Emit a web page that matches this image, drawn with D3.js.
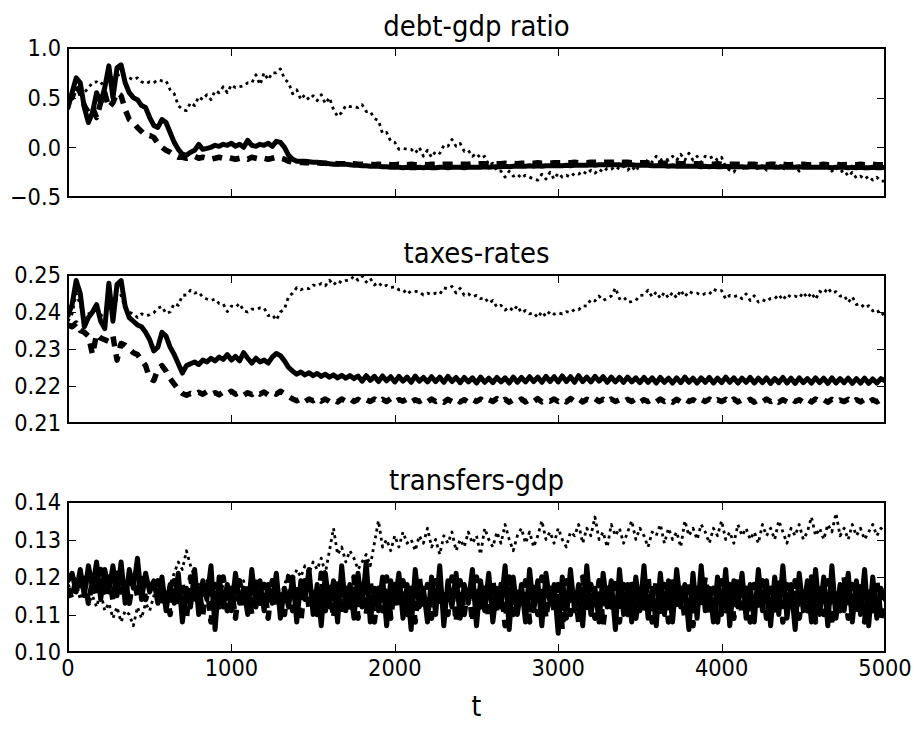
<!DOCTYPE html>
<html>
<head>
<meta charset="utf-8">
<script src="https://cdn.jsdelivr.net/npm/d3@7"></script>
<style>
html,body{margin:0;padding:0;background:#fff;}
svg{display:block;}
text{font-family:"DejaVu Sans",sans-serif;fill:#000;}
</style>
</head>
<body>
<svg id="chart" width="917" height="729"></svg>
<script>
// time axis (every 25 periods)
const T = d3.range(0, 5001, 25);
const xTicks = [0, 1000, 2000, 3000, 4000, 5000];

const titles = ["debt-gdp ratio", "taxes-rates", "transfers-gdp"];
const xLabel = "t";
const debtTicks = [-0.5, 0.0, 0.5, 1.0];
const taxTicks = [0.21, 0.22, 0.23, 0.24, 0.25];
const transferTicks = [0.10, 0.11, 0.12, 0.13, 0.14];

// ---------- debt-gdp ratio ----------
const debtSolid = [
0.40,0.55,0.70,0.65,0.40,0.25,0.35,0.55,0.45,0.60,0.82,0.50,0.80,0.83,0.65,0.55,0.50,0.48,0.42,0.40,0.30,0.22,0.20,0.28,
0.25,0.15,0.05,-0.02,-0.07,-0.08,-0.05,-0.03,0.03,-0.02,-0.01,0.00,0.02,0.01,0.03,0.02,0.04,0.01,0.03,0.00,0.07,0.02,0.01,0.03,
0.02,0.04,0.01,0.06,0.05,0.00,-0.08,-0.12,-0.14,-0.14,-0.14,-0.145,-0.15,-0.15,-0.155,-0.16,-0.165,-0.17,-0.17,-0.165,-0.17,-0.175,-0.18,-0.18,
-0.185,-0.185,-0.19,-0.19,-0.19,-0.195,-0.195,-0.2,-0.2,-0.2,-0.205,-0.2,-0.205,-0.205,-0.2,-0.205,-0.2,-0.205,-0.205,-0.2,-0.2,-0.205,-0.2,-0.2,
-0.2,-0.205,-0.2,-0.2,-0.2,-0.2,-0.195,-0.2,-0.195,-0.195,-0.195,-0.19,-0.195,-0.19,-0.19,-0.19,-0.19,-0.185,-0.19,-0.185,-0.19,-0.185,-0.185,-0.185,
-0.185,-0.185,-0.18,-0.185,-0.18,-0.18,-0.18,-0.18,-0.175,-0.18,-0.175,-0.175,-0.175,-0.175,-0.175,-0.175,-0.18,-0.175,-0.175,-0.18,-0.18,-0.18,-0.18,-0.185,
-0.185,-0.185,-0.185,-0.19,-0.185,-0.19,-0.19,-0.19,-0.19,-0.19,-0.19,-0.195,-0.19,-0.195,-0.19,-0.195,-0.195,-0.19,-0.195,-0.195,-0.195,-0.195,-0.2,-0.195,
-0.195,-0.2,-0.195,-0.2,-0.195,-0.2,-0.2,-0.195,-0.2,-0.2,-0.2,-0.195,-0.2,-0.2,-0.2,-0.2,-0.2,-0.2,-0.2,-0.205,-0.2,-0.2,-0.2,-0.205,
-0.2,-0.205,-0.2,-0.205,-0.205,-0.2,-0.205,-0.205,-0.2
];
const debtDashed = [
0.48,0.50,0.62,0.55,0.42,0.35,0.40,0.30,0.45,0.55,0.40,0.45,0.55,0.52,0.38,0.28,0.25,0.20,0.16,0.12,0.12,0.10,0.04,0.00,
-0.03,-0.05,-0.08,-0.10,-0.10,-0.11,-0.10,-0.09,-0.11,-0.10,-0.11,-0.12,-0.11,-0.10,-0.11,-0.10,-0.11,-0.12,-0.11,-0.11,-0.12,-0.10,-0.11,-0.12,
-0.11,-0.12,-0.11,-0.10,-0.11,-0.12,-0.14,-0.15,-0.155,-0.15,-0.155,-0.155,-0.16,-0.155,-0.16,-0.16,-0.165,-0.16,-0.165,-0.165,-0.165,-0.17,-0.165,-0.17,
-0.17,-0.17,-0.17,-0.175,-0.17,-0.175,-0.17,-0.175,-0.175,-0.17,-0.175,-0.175,-0.17,-0.175,-0.175,-0.17,-0.175,-0.17,-0.17,-0.175,-0.17,-0.17,-0.17,-0.17,
-0.17,-0.17,-0.17,-0.165,-0.17,-0.165,-0.165,-0.17,-0.165,-0.165,-0.165,-0.16,-0.165,-0.16,-0.165,-0.16,-0.16,-0.16,-0.16,-0.155,-0.16,-0.155,-0.16,-0.155,
-0.155,-0.155,-0.155,-0.155,-0.15,-0.155,-0.15,-0.155,-0.15,-0.15,-0.15,-0.15,-0.15,-0.15,-0.15,-0.155,-0.15,-0.15,-0.155,-0.155,-0.155,-0.155,-0.16,-0.155,
-0.16,-0.16,-0.16,-0.16,-0.165,-0.16,-0.165,-0.165,-0.165,-0.165,-0.165,-0.17,-0.165,-0.17,-0.17,-0.165,-0.17,-0.17,-0.17,-0.17,-0.17,-0.175,-0.17,-0.17,
-0.17,-0.175,-0.17,-0.175,-0.17,-0.17,-0.175,-0.17,-0.175,-0.175,-0.17,-0.175,-0.17,-0.175,-0.175,-0.17,-0.175,-0.17,-0.175,-0.175,-0.17,-0.175,-0.175,-0.17,
-0.175,-0.175,-0.17,-0.175,-0.175,-0.17,-0.175,-0.175,-0.175
];
const debtDotted = [
0.45,0.55,0.60,0.58,0.55,0.60,0.65,0.66,0.63,0.68,0.72,0.70,0.72,0.74,0.71,0.70,0.68,0.70,0.66,0.64,0.66,0.65,0.68,0.67,
0.67,0.58,0.54,0.42,0.38,0.37,0.45,0.42,0.51,0.48,0.53,0.48,0.57,0.55,0.61,0.55,0.63,0.60,0.61,0.62,0.65,0.65,0.73,0.63,
0.75,0.68,0.75,0.75,0.79,0.69,0.65,0.54,0.58,0.48,0.53,0.48,0.52,0.47,0.53,0.44,0.50,0.38,0.31,0.35,0.42,0.41,0.41,0.40,
0.43,0.36,0.36,0.29,0.27,0.14,0.15,0.06,0.05,-0.02,-0.01,-0.02,-0.02,-0.06,0.00,-0.09,-0.03,-0.10,-0.04,-0.06,0.02,0.01,0.08,0.01,
0.04,-0.04,-0.03,-0.09,-0.06,-0.11,-0.09,-0.18,-0.16,-0.24,-0.24,-0.30,-0.24,-0.29,-0.27,-0.31,-0.28,-0.30,-0.32,-0.33,-0.27,-0.32,-0.25,-0.32,
-0.26,-0.30,-0.28,-0.30,-0.26,-0.27,-0.24,-0.27,-0.23,-0.26,-0.22,-0.25,-0.21,-0.22,-0.19,-0.22,-0.19,-0.23,-0.19,-0.24,-0.17,-0.18,-0.12,-0.15,
-0.09,-0.13,-0.11,-0.13,-0.09,-0.13,-0.07,-0.13,-0.06,-0.13,-0.09,-0.15,-0.09,-0.11,-0.09,-0.13,-0.10,-0.20,-0.23,-0.25,-0.18,-0.22,-0.17,-0.21,
-0.17,-0.23,-0.18,-0.23,-0.19,-0.21,-0.16,-0.23,-0.17,-0.21,-0.19,-0.24,-0.18,-0.20,-0.17,-0.23,-0.17,-0.21,-0.19,-0.24,-0.20,-0.25,-0.23,-0.29,
-0.25,-0.31,-0.29,-0.32,-0.29,-0.33,-0.30,-0.34,-0.34
];

// ---------- taxes-rates ----------
const taxSolid = [
0.239,0.242,0.2485,0.245,0.236,0.2385,0.240,0.242,0.2375,0.2355,0.2478,0.2375,0.2475,0.2485,0.2415,0.2385,0.2375,0.2365,0.2360,0.2345,0.2325,0.2295,0.2305,0.2345,
0.2335,0.2305,0.2285,0.226,0.2235,0.2255,0.226,0.2265,0.2258,0.2270,0.2265,0.2275,0.2268,0.2278,0.2272,0.2285,0.2270,0.2280,0.2268,0.2290,0.2275,0.2262,0.2275,0.2265,
0.2270,0.2262,0.2278,0.2288,0.2282,0.2268,0.2250,0.2240,0.2232,0.2238,0.2230,0.2236,0.2228,0.2234,0.2226,0.2232,0.2224,0.2230,0.2222,0.2229,0.2221,0.2228,0.2220,0.2227,
0.2213,0.2228,0.2215,0.2226,0.2212,0.2227,0.2214,0.2225,0.2211,0.2226,0.2213,0.2224,0.2210,0.2227,0.2213,0.2223,0.2211,0.2225,0.2212,0.2224,0.2210,0.2226,0.2212,0.2223,
0.2209,0.2223,0.2211,0.2222,0.2208,0.2224,0.2210,0.2221,0.2209,0.2223,0.2211,0.2222,0.2208,0.2224,0.2210,0.2223,0.2211,0.2225,0.2212,0.2224,0.2210,0.2226,0.2212,0.2225,
0.2211,0.2227,0.2212,0.2225,0.2210,0.2228,0.2212,0.2224,0.2211,0.2226,0.2213,0.2225,0.2210,0.2224,0.2211,0.2223,0.2210,0.2224,0.2211,0.2222,0.2209,0.2223,0.2210,0.2222,
0.2208,0.2223,0.2210,0.2221,0.2208,0.2222,0.2209,0.2224,0.2210,0.2221,0.2208,0.2222,0.2210,0.2223,0.2208,0.2221,0.2209,0.2224,0.2210,0.2222,0.2208,0.2221,0.2210,0.2223,
0.2208,0.2221,0.2209,0.2222,0.2207,0.2220,0.2209,0.2223,0.2208,0.2221,0.2207,0.2222,0.2209,0.2220,0.2208,0.2222,0.2209,0.2221,0.2207,0.2222,0.2208,0.2220,0.2209,0.2221,
0.2207,0.2220,0.2208,0.2221,0.2207,0.2219,0.2208,0.2220,0.2214
];
const taxDashed = [
0.2365,0.2360,0.2370,0.2350,0.2345,0.2335,0.2285,0.2340,0.2330,0.2325,0.2320,0.2335,0.2270,0.2315,0.2310,0.2300,0.2290,0.2285,0.2270,0.2255,0.2220,0.2215,0.2245,0.2255,
0.2240,0.2220,0.2205,0.2190,0.2180,0.2175,0.2180,0.2176,0.2183,0.2178,0.2185,0.2177,0.2182,0.2176,0.2184,0.2179,0.2186,0.2178,0.2183,0.2175,0.2182,0.2177,0.2185,0.2178,
0.2184,0.2176,0.2183,0.2178,0.2186,0.2179,0.2172,0.2165,0.2160,0.2166,0.2158,0.2165,0.2160,0.2167,0.2159,0.2165,0.2158,0.2164,0.2157,0.2165,0.2159,0.2166,0.2158,0.2164,
0.2157,0.2163,0.2158,0.2165,0.2157,0.2164,0.2158,0.2166,0.2157,0.2163,0.2159,0.2165,0.2156,0.2163,0.2158,0.2164,0.2157,0.2165,0.2158,0.2163,0.2156,0.2164,0.2158,0.2165,
0.2157,0.2163,0.2156,0.2164,0.2158,0.2165,0.2157,0.2163,0.2158,0.2166,0.2157,0.2164,0.2156,0.2163,0.2158,0.2165,0.2157,0.2164,0.2158,0.2166,0.2157,0.2163,0.2159,0.2165,
0.2158,0.2164,0.2157,0.2166,0.2158,0.2165,0.2157,0.2164,0.2159,0.2166,0.2158,0.2164,0.2157,0.2165,0.2158,0.2163,0.2157,0.2164,0.2158,0.2165,0.2156,0.2163,0.2158,0.2164,
0.2157,0.2165,0.2158,0.2163,0.2156,0.2164,0.2157,0.2165,0.2158,0.2163,0.2156,0.2164,0.2158,0.2165,0.2157,0.2163,0.2158,0.2164,0.2156,0.2165,0.2157,0.2163,0.2158,0.2164,
0.2156,0.2163,0.2157,0.2165,0.2158,0.2164,0.2156,0.2163,0.2157,0.2165,0.2158,0.2163,0.2156,0.2164,0.2157,0.2165,0.2158,0.2163,0.2156,0.2164,0.2157,0.2162,0.2158,0.2164,
0.2156,0.2163,0.2157,0.2164,0.2156,0.2163,0.2157,0.2164,0.2158
];
const taxDotted = [
0.2375,0.2395,0.2450,0.2420,0.2380,0.2395,0.2400,0.2415,0.2390,0.2395,0.2430,0.2400,0.2440,0.2445,0.2410,0.2400,0.2395,0.2385,0.2395,0.2390,0.2392,0.2398,0.2410,0.2415,
0.2396,0.2400,0.2423,0.2418,0.2445,0.2446,0.2459,0.2451,0.2454,0.2440,0.2435,0.2431,0.2435,0.2423,0.2422,0.2401,0.2416,0.2413,0.2423,0.2403,0.2400,0.2408,0.2407,0.2411,
0.2411,0.2390,0.2393,0.2378,0.2400,0.2408,0.2442,0.2451,0.2466,0.2460,0.2465,0.2463,0.2473,0.2470,0.2477,0.2471,0.2486,0.2473,0.2485,0.2479,0.2485,0.2486,0.2497,0.2486,
0.2497,0.2481,0.2491,0.2473,0.2480,0.2468,0.2472,0.2466,0.2468,0.2460,0.2461,0.2448,0.2457,0.2456,0.2455,0.2446,0.2451,0.2447,0.2451,0.2448,0.2465,0.2463,0.2469,0.2451,
0.2464,0.2445,0.2449,0.2441,0.2445,0.2436,0.2439,0.2424,0.2431,0.2413,0.2418,0.2405,0.2413,0.2403,0.2417,0.2398,0.2404,0.2395,0.2398,0.2385,0.2401,0.2388,0.2402,0.2394,
0.2398,0.2395,0.2401,0.2398,0.2407,0.2406,0.2417,0.2416,0.2434,0.2430,0.2443,0.2431,0.2437,0.2443,0.2465,0.2436,0.2441,0.2427,0.2428,0.2431,0.2445,0.2446,0.2459,0.2441,
0.2454,0.2437,0.2453,0.2438,0.2453,0.2438,0.2459,0.2441,0.2456,0.2450,0.2451,0.2445,0.2450,0.2448,0.2462,0.2456,0.2458,0.2435,0.2445,0.2441,0.2445,0.2436,0.2449,0.2431,
0.2444,0.2427,0.2433,0.2428,0.2437,0.2436,0.2447,0.2432,0.2448,0.2440,0.2443,0.2438,0.2453,0.2438,0.2452,0.2434,0.2456,0.2450,0.2465,0.2451,0.2455,0.2443,0.2445,0.2426,
0.2441,0.2420,0.2423,0.2411,0.2417,0.2403,0.2407,0.2391,0.2398
];

// ---------- transfers-gdp ----------
const trSolid = [
0.119,0.121,0.116,0.122,0.115,0.123,0.117,0.124,0.114,0.122,0.116,0.123,0.115,0.124,0.113,0.122,0.117,0.125,0.114,0.121,0.116,0.119,0.113,0.120,
0.111,0.118,0.113,0.121,0.108,0.117,0.112,0.122,0.110,0.119,0.114,0.123,0.106,0.120,0.112,0.118,0.111,0.121,0.113,0.117,0.110,0.122,0.112,0.119,
0.111,0.118,0.113,0.121,0.109,0.117,0.112,0.120,0.108,0.119,0.114,0.122,0.110,0.118,0.107,0.121,0.112,0.119,0.108,0.123,0.111,0.118,0.109,0.121,
0.112,0.124,0.108,0.117,0.111,0.120,0.107,0.119,0.113,0.121,0.109,0.118,0.106,0.122,0.112,0.117,0.108,0.120,0.110,0.123,0.107,0.119,0.112,0.121,
0.109,0.118,0.113,0.122,0.107,0.119,0.111,0.121,0.108,0.117,0.112,0.123,0.106,0.120,0.110,0.118,0.108,0.122,0.111,0.119,0.107,0.121,0.113,0.118,
0.105,0.120,0.109,0.122,0.111,0.118,0.107,0.123,0.110,0.117,0.108,0.121,0.112,0.119,0.106,0.122,0.110,0.118,0.108,0.120,0.111,0.123,0.109,0.117,
0.107,0.121,0.110,0.119,0.108,0.122,0.112,0.118,0.106,0.121,0.109,0.123,0.111,0.117,0.108,0.120,0.110,0.122,0.107,0.119,0.112,0.121,0.109,0.118,
0.108,0.122,0.111,0.119,0.107,0.120,0.110,0.123,0.109,0.118,0.106,0.121,0.111,0.119,0.108,0.122,0.110,0.120,0.107,0.123,0.109,0.118,0.111,0.121,
0.108,0.119,0.110,0.122,0.107,0.120,0.109,0.117,0.114
];
const trDashed = [
0.117,0.114,0.120,0.116,0.121,0.113,0.119,0.115,0.122,0.116,0.120,0.114,0.121,0.116,0.119,0.113,0.120,0.115,0.121,0.114,0.118,0.116,0.119,0.112,
0.117,0.110,0.119,0.112,0.118,0.109,0.120,0.113,0.117,0.110,0.119,0.108,0.118,0.112,0.120,0.111,0.117,0.109,0.119,0.112,0.118,0.110,0.120,0.113,
0.118,0.109,0.119,0.112,0.117,0.110,0.120,0.111,0.118,0.108,0.119,0.112,0.117,0.110,0.121,0.111,0.118,0.109,0.119,0.110,0.117,0.112,0.120,0.109,
0.118,0.110,0.119,0.108,0.117,0.111,0.120,0.109,0.118,0.112,0.119,0.110,0.117,0.108,0.120,0.111,0.118,0.109,0.119,0.112,0.117,0.110,0.120,0.108,
0.119,0.110,0.118,0.108,0.120,0.112,0.117,0.109,0.119,0.111,0.118,0.107,0.120,0.110,0.117,0.112,0.119,0.108,0.118,0.110,0.120,0.109,0.117,0.111,
0.118,0.106,0.119,0.110,0.117,0.108,0.120,0.111,0.118,0.109,0.119,0.107,0.117,0.112,0.120,0.108,0.118,0.110,0.119,0.109,0.117,0.111,0.120,0.108,
0.119,0.110,0.118,0.108,0.120,0.111,0.117,0.109,0.119,0.107,0.118,0.112,0.120,0.110,0.117,0.108,0.119,0.111,0.118,0.109,0.120,0.110,0.117,0.108,
0.118,0.111,0.119,0.109,0.117,0.110,0.120,0.108,0.118,0.112,0.119,0.109,0.117,0.111,0.120,0.108,0.118,0.110,0.119,0.107,0.117,0.111,0.120,0.109,
0.118,0.110,0.119,0.108,0.117,0.111,0.119,0.109,0.116
];
const trDotted = [
0.118,0.116,0.119,0.114,0.117,0.113,0.115,0.112,0.116,0.111,0.113,0.109,0.112,0.108,0.111,0.110,0.107,0.112,0.109,0.113,0.111,0.115,0.114,0.117,
0.116,0.118,0.121,0.124,0.122,0.127,0.123,0.120,0.118,0.116,0.119,0.115,0.117,0.114,0.118,0.116,0.113,0.117,0.115,0.119,0.114,0.116,0.118,0.115,
0.117,0.114,0.116,0.119,0.115,0.118,0.121,0.119,0.122,0.120,0.123,0.121,0.124,0.122,0.125,0.121,0.127,0.133,0.126,0.128,0.124,0.127,0.125,0.122,
0.124,0.126,0.123,0.129,0.135,0.128,0.130,0.127,0.131,0.128,0.132,0.129,0.130,0.127,0.131,0.129,0.133,0.128,0.130,0.126,0.131,0.129,0.132,0.127,
0.130,0.128,0.132,0.129,0.131,0.126,0.133,0.130,0.128,0.132,0.129,0.134,0.130,0.127,0.131,0.133,0.129,0.132,0.128,0.131,0.135,0.130,0.132,0.129,
0.133,0.130,0.128,0.132,0.131,0.134,0.129,0.133,0.131,0.136,0.130,0.132,0.128,0.134,0.131,0.133,0.129,0.132,0.135,0.130,0.133,0.131,0.128,0.132,
0.131,0.134,0.129,0.133,0.130,0.132,0.128,0.135,0.131,0.133,0.130,0.134,0.132,0.129,0.133,0.131,0.135,0.130,0.132,0.129,0.134,0.131,0.133,0.130,
0.132,0.129,0.134,0.131,0.133,0.130,0.135,0.132,0.129,0.133,0.131,0.134,0.130,0.132,0.136,0.131,0.133,0.130,0.134,0.132,0.137,0.131,0.133,0.130,
0.134,0.131,0.133,0.130,0.132,0.134,0.131,0.133,0.132
];

// ---------- drawing ----------
const svg = d3.select("#chart");
svg.append("rect").attr("width", 917).attr("height", 729).attr("fill", "#fff");

const left = 68, right = 885;
const x = d3.scaleLinear().domain([0, 5000]).range([left, right]);
const SY = 1.1; // vertical stretch of the glyphs in the reference

function label(g, xx, yy, txt, size, anchor, dy) {
  g.append("g").attr("transform", `translate(${xx},${yy}) scale(1,${SY})`)
    .append("text").attr("x", 0).attr("y", 0).attr("dy", dy || 0)
    .attr("text-anchor", anchor).attr("font-size", size).text(txt);
}

const panels = [
  {title: titles[0], top: 48, bottom: 197, domain: [-0.5, 1.0], ticks: debtTicks, fmt: d3.format(".1f"),
   series: [debtSolid, debtDashed, debtDotted]},
  {title: titles[1], top: 275, bottom: 423, domain: [0.21, 0.25], ticks: taxTicks, fmt: d3.format(".2f"),
   series: [taxSolid, taxDashed, taxDotted]},
  {title: titles[2], top: 502, bottom: 652, domain: [0.10, 0.14], ticks: transferTicks, fmt: d3.format(".2f"),
   series: [trSolid, trDashed, trDotted]}
];

const styles = [
  {w: 5, dash: null},
  {w: 5.5, dash: "10,8"},
  {w: 2.8, dash: "3,4"}
];

panels.forEach((p, pi) => {
  const y = d3.scaleLinear().domain(p.domain).range([p.bottom, p.top]);
  const g = svg.append("g");
  const clipId = "clip" + pi;
  svg.append("clipPath").attr("id", clipId).append("rect")
    .attr("x", left).attr("y", p.top).attr("width", right - left).attr("height", p.bottom - p.top);

  const line = d3.line().x((d, i) => x(T[i])).y(d => y(d));
  const lines = g.append("g").attr("clip-path", `url(#${clipId})`);
  p.series.forEach((s, si) => {
    lines.append("path").datum(s)
      .attr("d", line)
      .attr("fill", "none")
      .attr("stroke", "#000")
      .attr("stroke-width", styles[si].w)
      .attr("stroke-linejoin", "round")
      .attr("stroke-linecap", si === 0 ? "round" : "butt")
      .attr("stroke-dasharray", styles[si].dash);
  });

  // ticks (inward, all sides)
  const tk = g.append("g").attr("stroke", "#000").attr("stroke-width", 1);
  p.ticks.forEach(v => {
    const yy = Math.round(y(v)) + 0.5;
    tk.append("line").attr("x1", left).attr("x2", left + 8).attr("y1", yy).attr("y2", yy);
    tk.append("line").attr("x1", right - 8).attr("x2", right).attr("y1", yy).attr("y2", yy);
  });
  xTicks.forEach(v => {
    const xx = Math.round(x(v)) + 0.5;
    tk.append("line").attr("x1", xx).attr("x2", xx).attr("y1", p.top).attr("y2", p.top + 8);
    tk.append("line").attr("x1", xx).attr("x2", xx).attr("y1", p.bottom - 8).attr("y2", p.bottom);
  });

  // frame
  g.append("rect").attr("x", left).attr("y", p.top).attr("width", right - left).attr("height", p.bottom - p.top)
    .attr("fill", "none").attr("stroke", "#000").attr("stroke-width", 2);

  // y tick labels
  p.ticks.forEach(v => label(g, left - 7, y(v), p.fmt(v), 21, "end", "0.36em"));

  // title
  label(g, (left + right) / 2, p.top - 12, p.title, 26, "middle");

  // x tick labels on last panel
  if (pi === panels.length - 1) {
    xTicks.forEach(v => label(g, x(v), p.bottom + 24, d3.format("d")(v), 21, "middle"));
    label(g, (left + right) / 2, 716, xLabel, 25, "middle");
  }
});
</script>
</body>
</html>
